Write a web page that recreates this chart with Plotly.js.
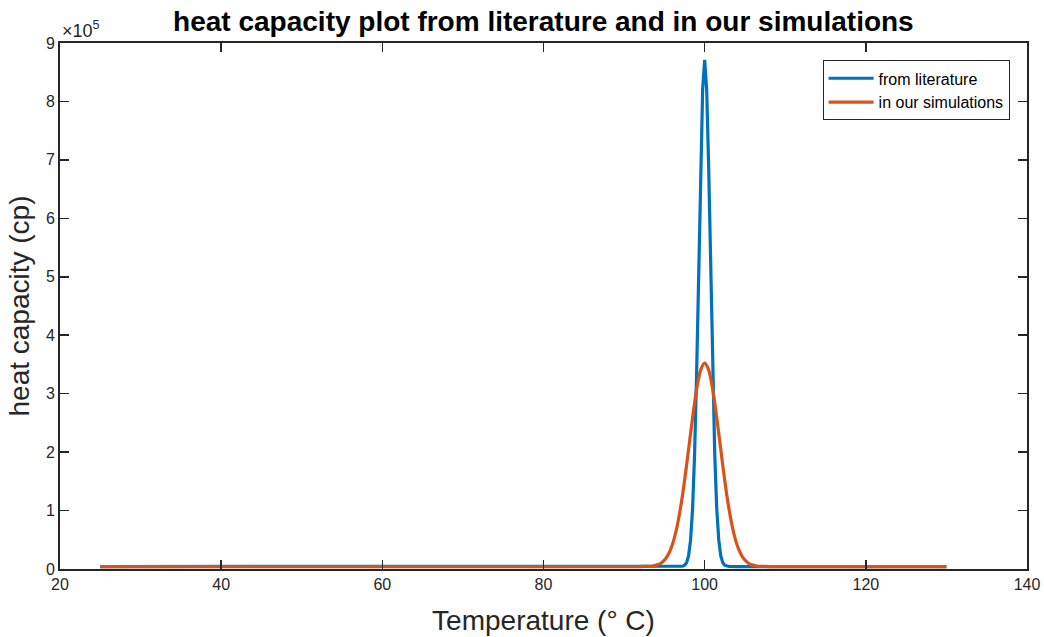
<!DOCTYPE html>
<html>
<head>
<meta charset="utf-8">
<script src="https://cdn.plot.ly/plotly-3.0.1.min.js"></script>
<style>html,body{margin:0;padding:0;background:#fff;}#chart{width:1044px;height:637px;}</style>
</head>
<body>
<div id="chart"></div>
<script>
// Temperature (°C) and heat capacity
var litTemp = [25,30,35,40,45,50,55,60,65,70,75,80,85,90,95,96,
  97,97.25,97.5,97.75,98,98.25,98.5,98.75,99,99.25,99.5,99.75,100,
  100.25,100.5,100.75,101,101.25,101.5,101.75,102,102.25,102.5,102.75,103,
  104,105,110,115,120,125,130];
var litCp = [4180,4180,4180,4180,4180,4180,4180,4180,4180,4180,4180,4180,4180,4180,4180,4180,
  4300,4800,6300,10700,22500,49400,103200,196300,334700,508200,685500,820500,871200,
  820500,685500,508200,334700,196300,103200,49400,22500,10700,6300,4800,4300,
  4180,4180,4180,4180,4180,4180,4180];

var simTemp = [25,30,35,40,45,50,55,60,65,70,75,80,85,90,91,
  92,92.5,93,93.5,94,94.5,95,95.5,96,96.5,97,97.5,98,98.5,99,99.5,100,
  100.5,101,101.5,102,102.5,103,103.5,104,104.5,105,105.5,106,106.5,107,107.5,108,
  109,110,115,120,125,130];
var simCp = [4180,4180,4180,4180,4180,4180,4180,4180,4180,4180,4180,4180,4180,4180,4180,
  4200,4350,4600,5200,6600,9400,15100,25300,42100,68000,104200,150600,204200,259000,307200,340400,352200,
  340400,307200,259000,204200,150600,104200,68000,42100,25300,15100,9400,6600,5200,4600,4350,4200,
  4180,4180,4180,4180,4180,4180];

var seriesNames = ['from literature','in our simulations'];
var xTicks = [20,40,60,80,100,120,140];
var yTicks = [0,100000,200000,300000,400000,500000,600000,700000,800000,900000];
var yTickText = ['0','1','2','3','4','5','6','7','8','9'];

var axisColor = '#262626';
var traces = [
  {x: litTemp, y: litCp, name: seriesNames[0], mode: 'lines', type: 'scatter',
   line: {color: '#0072BD', width: 3.2}},
  {x: simTemp, y: simCp, name: seriesNames[1], mode: 'lines', type: 'scatter',
   line: {color: '#D95319', width: 3.2, shape: 'spline', smoothing: 0.8}}
];

var font = 'Liberation Sans, Arial, Helvetica, sans-serif';
var layout = {
  width: 1044, height: 637,
  margin: {l: 60, r: 17, t: 43, b: 68},
  paper_bgcolor: '#fff', plot_bgcolor: '#fff',
  font: {family: font, color: axisColor, size: 16},
  title: {text: '<b>heat capacity plot from literature and in our simulations</b>',
    font: {family: font, size: 28, color: '#000'}, x: 0.5205, xanchor: 'center', y: 0.966, yanchor: 'middle'},
  xaxis: {range: [20, 140], tickvals: xTicks, ticks: 'inside', ticklen: 9, tickwidth: 1.5,
    tickcolor: axisColor, showline: true, linecolor: axisColor, linewidth: 2, mirror: 'ticks',
    showgrid: false, zeroline: false, tickfont: {size: 16, color: axisColor},
    title: {text: 'Temperature (° C)', font: {size: 28, color: axisColor}, standoff: 18}},
  yaxis: {range: [0, 900000], tickvals: yTicks, ticktext: yTickText, ticks: 'inside', ticklen: 9,
    tickwidth: 1.5, tickcolor: axisColor, showline: true, linecolor: axisColor, linewidth: 2,
    mirror: 'ticks', showgrid: false, zeroline: false, tickfont: {size: 16, color: axisColor},
    title: {text: 'heat capacity (cp)', font: {size: 28, color: axisColor}, standoff: 8}},
  showlegend: true,
  legend: {x: 0.982, xanchor: 'right', y: 0.967, yanchor: 'top', bgcolor: '#fff',
    bordercolor: axisColor, borderwidth: 1, font: {size: 16, color: '#000'},
    tracegroupgap: 0, itemwidth: 45},
  annotations: [{xref: 'paper', yref: 'paper', x: 0, y: 1, xanchor: 'left', yanchor: 'bottom',
    xshift: 0, yshift: 0, showarrow: false, text: '×10<sup>5</sup>', font: {size: 18, color: axisColor}}]
};

Plotly.newPlot('chart', traces, layout, {staticPlot: true, displayModeBar: false});
</script>
</body>
</html>
